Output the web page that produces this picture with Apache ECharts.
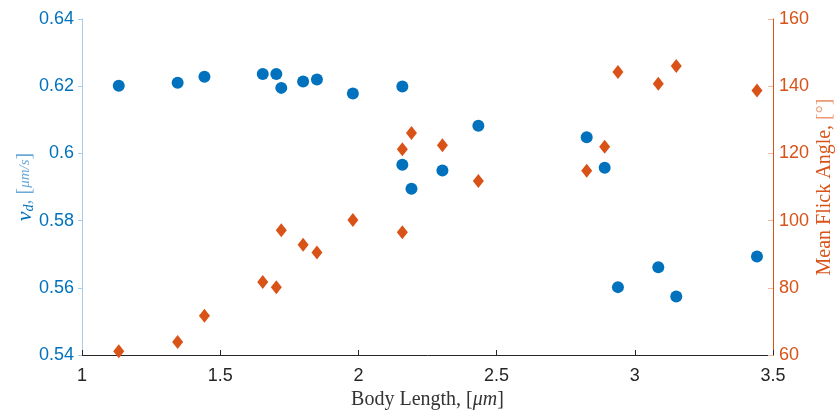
<!DOCTYPE html>
<html>
<head>
<meta charset="utf-8">
<script src="https://cdn.jsdelivr.net/npm/echarts@6/dist/echarts.min.js"></script>
<style>
  html, body { margin: 0; padding: 0; background: #fff; }
  #main { width: 839px; height: 411px; }
</style>
</head>
<body>
<div id="main"></div>
<script>
// body length (um)
var bodyLength = [1.133, 1.346, 1.443, 1.654, 1.703, 1.721, 1.800, 1.850, 1.980, 2.159,
                  2.159, 2.192, 2.304, 2.434, 2.826, 2.891, 2.939, 3.085, 3.150, 3.442];
// v_d (um/s), left axis
var velocity = [0.6201, 0.6210, 0.6228, 0.6236, 0.6236, 0.6195, 0.6214, 0.6220, 0.6178, 0.6199,
                0.5966, 0.5895, 0.5949, 0.6082, 0.6048, 0.5957, 0.5602, 0.5661, 0.5574, 0.5693];
// mean flick angle (deg), right axis
var flickAngle = [61.1, 63.9, 71.7, 81.7, 80.2, 97.1, 92.8, 90.5, 100.2, 96.5,
                  121.2, 126.1, 122.4, 111.8, 114.8, 122.0, 144.2, 140.7, 146.0, 138.7];

var blue = '#0072BD';
var orange = '#D95319';

function trimNum(v) {
  return String(parseFloat(v.toFixed(2)));
}

var velData = [];
var angData = [];
for (var i = 0; i < bodyLength.length; i++) {
  velData.push([bodyLength[i], velocity[i]]);
  angData.push([bodyLength[i], flickAngle[i]]);
}

var myChart = echarts.init(document.getElementById('main'));
var option = {
  animation: false,
  grid: { left: 82, right: 66, top: 19, bottom: 56, outerBoundsMode: 'none', containLabel: false },
  xAxis: {
    type: 'value', min: 1, max: 3.5, interval: 0.5,
    name: '{n|Body Length, [}{i|μm}{n|]}',
    nameLocation: 'middle', nameGap: 35,
    nameTextStyle: {
      rich: {
        n: { fontFamily: 'Liberation Serif', fontSize: 20, color: '#333333' },
        i: { fontFamily: 'Liberation Serif', fontStyle: 'italic', fontSize: 20, color: '#333333' }
      }
    },
    axisLine: { show: true, lineStyle: { color: '#262626', width: 1 } },
    axisTick: { show: true, inside: true, length: 5, lineStyle: { color: '#262626' } },
    axisLabel: { color: '#262626', fontSize: 18, fontFamily: 'Liberation Sans', margin: 12, formatter: trimNum },
    splitLine: { show: false }
  },
  yAxis: [{
    type: 'value', min: 0.54, max: 0.64, interval: 0.02,
    position: 'left',
    name: '{v|v}{sub|d}{n|, [}{f|μm/s}{n|]}',
    nameLocation: 'middle', nameGap: 46, nameRotate: 90,
    nameMoveOverlap: false,
    nameTextStyle: {
      rich: {
        v: { fontFamily: 'Liberation Serif', fontStyle: 'italic', fontSize: 22, color: blue },
        sub: { fontFamily: 'Liberation Serif', fontStyle: 'italic', fontSize: 14, color: blue, verticalAlign: 'bottom', padding: [8, 0, 0, 0] },
        n: { fontFamily: 'Liberation Serif', fontSize: 20, color: '#6aaad8' },
        f: { fontFamily: 'Liberation Serif', fontStyle: 'italic', fontSize: 15, color: '#6aaad8' }
      }
    },
    axisLine: { show: true, lineStyle: { color: '#a8cde9', width: 1 } },
    axisTick: { show: true, inside: false, length: 4, lineStyle: { color: '#a8cde9' } },
    axisLabel: { color: blue, fontSize: 18, fontFamily: 'Liberation Sans', margin: 8, formatter: trimNum },
    splitLine: { show: false }
  }, {
    type: 'value', min: 60, max: 160, interval: 20,
    position: 'right',
    name: '{n|Mean Flick Angle, }{b|[°]}',
    nameLocation: 'middle', nameGap: 42, nameRotate: 90,
    nameMoveOverlap: false,
    nameTextStyle: {
      rich: {
        n: { fontFamily: 'Liberation Serif', fontSize: 20, color: orange },
        b: { fontFamily: 'Liberation Serif', fontSize: 20, color: '#ec9a76' }
      }
    },
    axisLine: { show: true, lineStyle: { color: orange, width: 1 } },
    axisTick: { show: true, inside: true, length: 5, lineStyle: { color: '#f0b9a0' } },
    axisLabel: { color: orange, fontSize: 18, fontFamily: 'Liberation Sans', margin: 6 },
    splitLine: { show: false }
  }],
  series: [{
    name: 'v_d',
    type: 'scatter',
    yAxisIndex: 0,
    symbol: 'circle',
    symbolSize: 12,
    itemStyle: { color: blue, opacity: 1 },
    data: velData
  }, {
    name: 'Mean Flick Angle',
    type: 'scatter',
    yAxisIndex: 1,
    symbol: 'diamond',
    symbolSize: [11, 14],
    itemStyle: { color: orange, opacity: 1 },
    data: angData
  }]
};
myChart.setOption(option);
</script>
</body>
</html>
